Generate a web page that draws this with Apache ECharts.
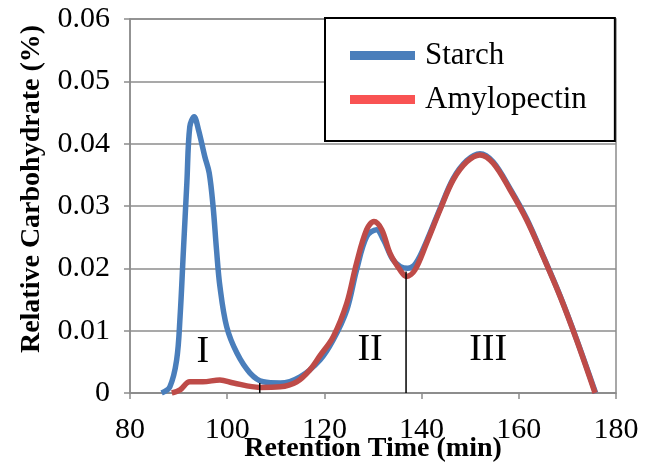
<!DOCTYPE html>
<html>
<head>
<meta charset="utf-8">
<script src="https://cdn.jsdelivr.net/npm/echarts@6/dist/echarts.min.js"></script>
<style>html,body{margin:0;padding:0;background:#fff}#c{width:657px;height:468px}</style>
</head>
<body>
<div id="c"></div>
<script>
const starchTime = [86.5, 88.2, 89.6, 90.3, 91.0, 91.7, 92.3, 93.2, 94.1, 95.4, 96.3, 97.1, 97.8, 98.5, 99.9, 102, 104.7, 107.4, 110.9, 115, 119.1, 121.8, 124.6, 126.6, 128.7, 130.7, 132.2, 134.0, 135.6, 137.1, 138.8, 141, 143.8, 146.5, 149.3, 152, 154.7, 158.2, 161.6, 165, 168.5, 171.9, 175.8];
const starchValue = [0, 0.001, 0.0053, 0.0122, 0.023, 0.0337, 0.0427, 0.0443, 0.0422, 0.0379, 0.0353, 0.0299, 0.023, 0.0171, 0.0106, 0.0064, 0.0032, 0.0018, 0.0016, 0.0026, 0.0053, 0.0085, 0.0133, 0.0197, 0.0251, 0.0262, 0.0245, 0.0215, 0.0203, 0.0200, 0.0208, 0.0243, 0.0296, 0.0344, 0.0373, 0.0384, 0.0371, 0.0328, 0.028, 0.022, 0.0156, 0.0086, 0];
const amyloTime = [88.6, 90.3, 92.3, 95, 98.5, 101.3, 106.7, 110.9, 114.3, 117, 119.1, 121.8, 124.6, 126.6, 128.7, 130.2, 131.8, 133.5, 135.6, 136.9, 138.6, 141, 143.8, 146.5, 149.3, 152, 154.7, 158.2, 161.6, 165, 168.5, 171.9, 175.7];
const amyloValue = [0, 0.0005, 0.0018, 0.0018, 0.0021, 0.0016, 0.0009, 0.001, 0.0018, 0.0037, 0.006, 0.009, 0.0144, 0.0208, 0.0262, 0.0275, 0.0262, 0.0224, 0.0197, 0.0187, 0.0197, 0.024, 0.0294, 0.0342, 0.0371, 0.0382, 0.0369, 0.0326, 0.0278, 0.0219, 0.0155, 0.0085, 0];
const dividerTime = [106.7, 136.8];
const dividerTop = [0.0016, 0.0195];
const regionLabels = ['I', 'II', 'III'];
const regionTime = [95, 129.4, 153.7];
const regionValue = [0.0066, 0.0069, 0.0069];
const seriesNames = ['Starch', 'Amylopectin'];

const FONT = '"Liberation Serif", "Times New Roman", serif';
const GRID = '#8c8c8c';
const zip = (a, b) => a.map((v, i) => [v, b[i]]);

const series = [
  { name: seriesNames[0], type: 'line', data: zip(starchTime, starchValue), smooth: 0.35, symbol: 'none',
    lineStyle: { color: '#4A7EBB', width: 5.5 }, itemStyle: { color: '#4A7EBB' }, z: 3 },
  { name: seriesNames[1], type: 'line', data: zip(amyloTime, amyloValue), smooth: 0.35, symbol: 'none',
    lineStyle: { color: '#BE4B48', width: 5.5 }, itemStyle: { color: '#BE4B48' }, z: 4 }
];
dividerTime.forEach((t, i) => {
  series.push({ name: 'div' + i, type: 'line', data: [[t, 0], [t, dividerTop[i]]], symbol: 'none',
    lineStyle: { color: '#000', width: 1.5 }, z: 5, silent: true });
});
series.push({ name: 'regions', type: 'scatter', symbolSize: 0, silent: true, z: 6,
  itemStyle: { opacity: 1 },
  data: regionLabels.map((l, i) => ({ value: [regionTime[i], regionValue[i]], name: l })),
  label: { show: true, position: 'inside', formatter: p => p.name, color: '#000', opacity: 1,
    fontFamily: FONT, fontSize: 38 } });

const chart = echarts.init(document.getElementById('c'), null, { renderer: 'canvas' });
chart.setOption({
  animation: false,
  backgroundColor: '#fff',
  grid: { left: 130, right: 41, top: 19, bottom: 75, show: true, borderColor: GRID, borderWidth: 1.5,
    containLabel: false, outerBoundsMode: 'none' },
  legend: {
    data: [
      { name: seriesNames[0], itemStyle: { color: '#4A7EBB' } },
      { name: seriesNames[1], itemStyle: { color: '#F95353' } }
    ],
    orient: 'vertical', left: 325, top: 18,
    icon: 'rect', itemWidth: 65, itemHeight: 9, itemGap: 13,
    padding: [22, 28, 26, 25],
    borderColor: '#000', borderWidth: 2, backgroundColor: '#fff',
    textStyle: { fontFamily: FONT, fontSize: 31, color: '#000', padding: [0, 0, 0, 5] }
  },
  xAxis: {
    type: 'value', min: 80, max: 180, interval: 20,
    name: 'Retention Time (min)', nameLocation: 'middle', nameGap: 42, nameMoveOverlap: false,
    nameTextStyle: { fontFamily: FONT, fontSize: 28, fontWeight: 'bold', color: '#000' },
    axisLine: { show: true, lineStyle: { color: GRID, width: 1.5 } },
    axisTick: { show: true, length: 6, lineStyle: { color: GRID, width: 1.5 } },
    axisLabel: { fontFamily: FONT, fontSize: 30, color: '#000', margin: 22 },
    splitLine: { show: false }
  },
  yAxis: {
    type: 'value', min: 0, max: 0.06, interval: 0.01,
    name: 'Relative Carbohydrate (%)', nameLocation: 'middle', nameGap: 84, nameRotate: 90, nameMoveOverlap: false,
    nameTextStyle: { fontFamily: FONT, fontSize: 28, fontWeight: 'bold', color: '#000', padding: [0, 0, 0, 34] },
    axisLine: { show: true, lineStyle: { color: GRID, width: 1.5 } },
    axisTick: { show: true, length: 6, lineStyle: { color: GRID, width: 1.5 } },
    axisLabel: { fontFamily: FONT, fontSize: 30, color: '#000', margin: 20,
      formatter: v => v === 0 ? '0' : v.toFixed(2) },
    splitLine: { show: true, lineStyle: { color: GRID, width: 1.5 } }
  },
  series: series
});
</script>
</body>
</html>
